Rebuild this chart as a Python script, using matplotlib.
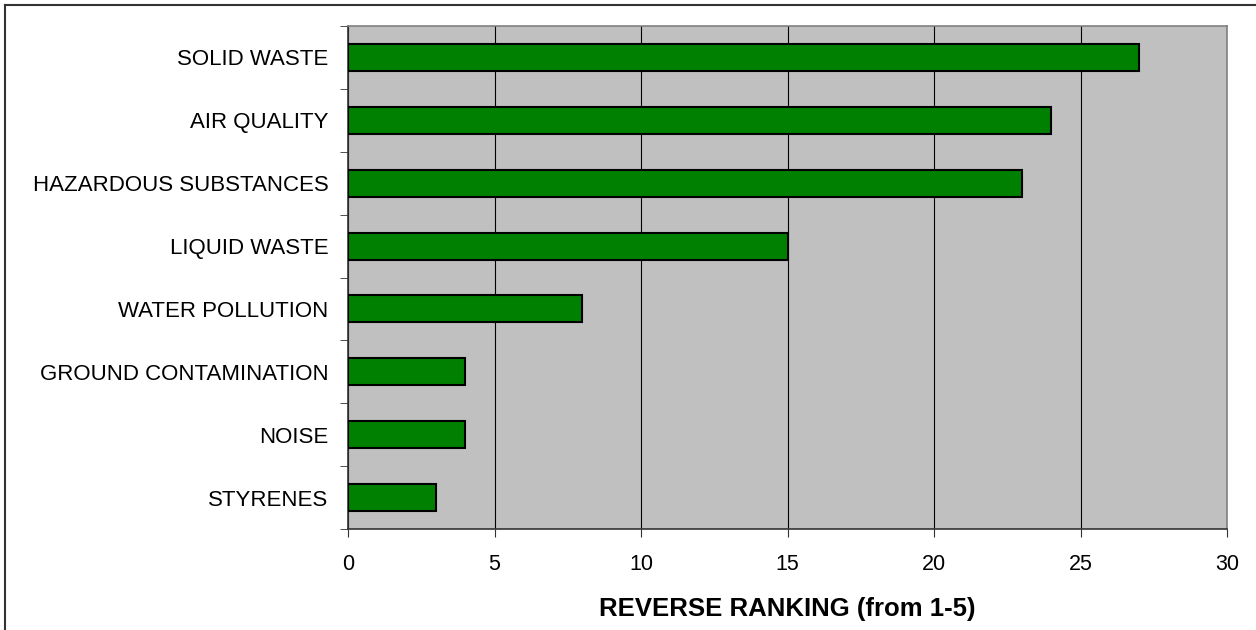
import numpy as np
import matplotlib.pyplot as plt

categories = ['SOLID WASTE', 'AIR QUALITY', 'HAZARDOUS SUBSTANCES', 'LIQUID WASTE',
              'WATER POLLUTION', 'GROUND CONTAMINATION', 'NOISE', 'STYRENES']
scores = [27, 24, 23, 15, 8, 4, 4, 3]
x_ticks = [0, 5, 10, 15, 20, 25, 30]

plt.rcParams['font.family'] = ['Liberation Sans', 'DejaVu Sans']

fig = plt.figure(figsize=(12.56, 6.3), dpi=100)
ax = fig.add_axes([348 / 1256, 1 - 529 / 630, (1227 - 348) / 1256, (529 - 26) / 630])

# outer chart border (only top/left visible in the original)
fig.add_artist(plt.Line2D([5 / 1256, 5 / 1256], [0, 1 - 5 / 630], color='#333333', lw=1.5))
fig.add_artist(plt.Line2D([5 / 1256, 1], [1 - 5 / 630, 1 - 5 / 630], color='#333333', lw=1.5))

ax.set_facecolor('#c0c0c0')
y = np.arange(len(categories))
ax.barh(y, scores, height=0.43, color='#008000', edgecolor='black', linewidth=1.5, zorder=3)

ax.set_xlim(0, 30)
ax.set_ylim(len(categories) - 0.5, -0.5)
ax.set_xticks(x_ticks)
ax.set_xticklabels([str(t) for t in x_ticks], fontsize=15.5)
ax.xaxis.grid(True, color='black', lw=0.8, zorder=1)
ax.set_axisbelow(True)

ax.set_yticks(y)
ax.set_yticklabels(categories, fontsize=16)
ax.tick_params(axis='y', length=0, pad=14)
# category boundary ticks
ax.set_yticks(np.arange(-0.5, len(categories)), minor=True)
ax.tick_params(axis='y', which='minor', length=6, direction='out', color='#333333')
ax.tick_params(axis='x', length=6, direction='out', color='#333333', pad=12)

for side in ['top', 'right']:
    ax.spines[side].set_color('#808080')
    ax.spines[side].set_linewidth(1.2)
for side in ['left', 'bottom']:
    ax.spines[side].set_color('#333333')
    ax.spines[side].set_linewidth(1.2)

ax.set_xlabel('REVERSE RANKING (from 1-5)', fontsize=18.5, fontweight='bold', labelpad=16)

fig.savefig('out.png', dpi=100)
